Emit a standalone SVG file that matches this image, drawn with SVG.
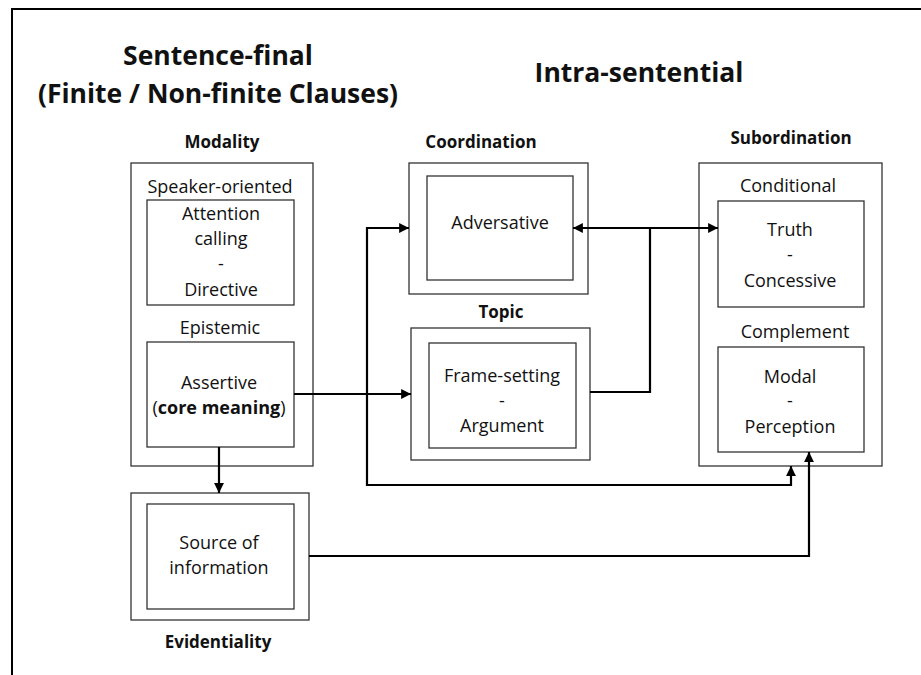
<svg xmlns="http://www.w3.org/2000/svg" width="921" height="675" viewBox="0 0 921 675">
<style>
text{font-family:"Open Sans","Noto Sans","DejaVu Sans",sans-serif;fill:#111;text-anchor:middle}
.t{font-size:26.5px;font-weight:bold}
.h{font-size:17px;font-weight:bold}
.n{font-size:18px}
.b{fill:none;stroke:#333;stroke-width:1.3}
.c{fill:none;stroke:#000;stroke-width:2.2}
</style>
<defs>
<marker id="ah" viewBox="0 0 10 10" refX="10" refY="5" markerWidth="4.5" markerHeight="4.5" orient="auto-start-reverse" markerUnits="strokeWidth">
<path d="M0,0 L10,5 L0,10 z" fill="#000"/>
</marker>
</defs>
<rect width="921" height="675" fill="#fff"/>
<rect x="12" y="9" width="930" height="690" fill="none" stroke="#000" stroke-width="2"/>
<g id="titles">
<text class="t" x="218" y="65">Sentence-final</text>
<text class="t" x="218" y="103">(Finite / Non-finite Clauses)</text>
<text class="t" x="639" y="82">Intra-sentential</text>
</g>
<g id="modality">
<text class="h" x="222" y="148">Modality</text>
<rect class="b" x="131" y="163" width="182" height="303"/>
<text class="n" x="220" y="193">Speaker-oriented</text>
<rect class="b" x="147" y="200" width="147" height="105"/>
<text class="n" x="221" y="220">Attention</text>
<text class="n" x="221" y="245">calling</text>
<text class="n" x="221" y="270">-</text>
<text class="n" x="221" y="296">Directive</text>
<text class="n" x="220" y="334">Epistemic</text>
<rect class="b" x="147" y="342" width="147" height="105"/>
<text class="n" x="219" y="389">Assertive</text>
<text class="n" x="219" y="414">(<tspan font-weight="bold">core meaning</tspan>)</text>
</g>
<g id="evidentiality">
<rect class="b" x="131" y="493" width="178" height="127"/>
<rect class="b" x="147" y="504" width="147" height="105"/>
<text class="n" x="219" y="549">Source of</text>
<text class="n" x="219" y="574">information</text>
<text class="h" x="218" y="648">Evidentiality</text>
</g>
<g id="coordination">
<text class="h" x="481" y="148">Coordination</text>
<rect class="b" x="409" y="163" width="179" height="131"/>
<rect class="b" x="427" y="176" width="146" height="104"/>
<text class="n" x="500" y="229">Adversative</text>
</g>
<g id="topic">
<text class="h" x="501" y="318">Topic</text>
<rect class="b" x="411" y="328" width="179" height="132"/>
<rect class="b" x="429" y="343" width="147" height="105"/>
<text class="n" x="502" y="382">Frame-setting</text>
<text class="n" x="502" y="407">-</text>
<text class="n" x="502" y="432">Argument</text>
</g>
<g id="subordination">
<text class="h" x="791" y="144">Subordination</text>
<rect class="b" x="699" y="163" width="183" height="303"/>
<text class="n" x="788" y="192">Conditional</text>
<rect class="b" x="718" y="201" width="146" height="106"/>
<text class="n" x="790" y="236">Truth</text>
<text class="n" x="790" y="261">-</text>
<text class="n" x="790" y="287">Concessive</text>
<text class="n" x="795" y="338">Complement</text>
<rect class="b" x="718" y="347" width="146" height="105"/>
<text class="n" x="790" y="383">Modal</text>
<text class="n" x="790" y="407">-</text>
<text class="n" x="790" y="433">Perception</text>
</g>
<g id="connectors">
<path class="c" d="M294,394 H411" marker-end="url(#ah)"/>
<path class="c" d="M219,447 V493" marker-end="url(#ah)"/>
<path class="c" d="M409,228 H367 V485 H791 V466" marker-start="url(#ah)" marker-end="url(#ah)"/>
<path class="c" d="M573,228 H718" marker-start="url(#ah)" marker-end="url(#ah)"/>
<path class="c" d="M650,228 V392 H590"/>
<path class="c" d="M309,556 H809 V452" marker-end="url(#ah)"/>
</g>
</svg>
